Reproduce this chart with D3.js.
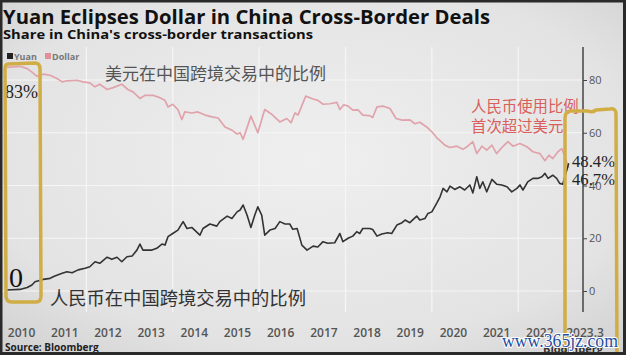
<!DOCTYPE html>
<html><head><meta charset="utf-8">
<script src="https://cdn.jsdelivr.net/npm/d3@7"></script>
<style>html,body{margin:0;padding:0;background:#222;}svg{display:block;}</style>
</head><body>
<script>
// ---- data ----
const dollarDates = [2010.16,2010.46,2010.63,2010.74,2010.86,2011.00,2011.16,2011.32,2011.44,2011.55,2011.78,2011.92,2012.08,2012.20,2012.31,2012.48,2012.62,2012.82,2012.96,2013.08,2013.24,2013.36,2013.54,2013.70,2013.82,2013.89,2014.00,2014.12,2014.21,2014.28,2014.44,2014.58,2014.75,2014.91,2015.05,2015.21,2015.37,2015.49,2015.56,2015.63,2015.81,2015.97,2016.13,2016.30,2016.48,2016.64,2016.74,2016.83,2016.90,2017.08,2017.25,2017.36,2017.48,2017.64,2017.80,2017.87,2017.96,2018.06,2018.17,2018.29,2018.40,2018.56,2018.63,2018.73,2018.87,2019.03,2019.17,2019.31,2019.49,2019.61,2019.72,2019.88,2020.02,2020.12,2020.19,2020.30,2020.42,2020.58,2020.72,2020.83,2020.95,2021.04,2021.16,2021.27,2021.39,2021.50,2021.62,2021.76,2021.88,2022.04,2022.20,2022.34,2022.50,2022.62,2022.71,2022.80,2022.92,2023.01,2023.17];
const dollarValues = [84.8,85.2,84.3,83,81.4,82.2,81.8,80.6,79.3,79.7,79.9,79.3,78.9,77.4,78.4,76.4,77.1,78.4,76.4,75.5,73,74.2,74.2,73.3,72.3,69.8,70.8,68.8,65,67.9,67.5,67.9,66.7,66,65.6,62.2,61,59.5,60,57.5,66.3,60,68.8,66.9,64.1,65.4,63.8,67.5,66.7,73.9,72.8,72.3,70.8,71,71.5,68.8,70.6,70.1,68.6,68.7,66.7,66.5,65.8,69.8,70.1,69.2,65.4,64.8,64.9,63.4,64,62.2,60,58,57,55.3,54.4,54.9,53.7,54.9,56.6,52.1,54.9,53.4,55.3,52.1,54.4,56.6,54.9,55.9,54.7,52.8,52.1,49.4,51.5,50.2,52.8,54,46.7];
const yuanDates = [2010.16,2010.46,2010.63,2010.74,2010.81,2011.00,2011.16,2011.27,2011.44,2011.55,2011.67,2011.81,2011.97,2012.08,2012.20,2012.31,2012.48,2012.59,2012.71,2012.82,2012.94,2013.06,2013.17,2013.24,2013.31,2013.52,2013.63,2013.75,2013.82,2013.89,2014.00,2014.12,2014.24,2014.33,2014.44,2014.63,2014.70,2014.86,2015.02,2015.09,2015.26,2015.37,2015.49,2015.56,2015.63,2015.72,2015.81,2015.90,2015.97,2016.06,2016.13,2016.25,2016.37,2016.48,2016.60,2016.71,2016.78,2016.88,2016.99,2017.11,2017.25,2017.36,2017.48,2017.59,2017.75,2017.87,2017.94,2018.06,2018.17,2018.26,2018.33,2018.40,2018.56,2018.63,2018.73,2018.84,2018.98,2019.07,2019.19,2019.31,2019.38,2019.49,2019.65,2019.72,2019.84,2019.91,2020.00,2020.12,2020.19,2020.26,2020.35,2020.42,2020.53,2020.65,2020.76,2020.88,2020.95,2021.04,2021.11,2021.18,2021.27,2021.39,2021.50,2021.62,2021.74,2021.85,2021.97,2022.04,2022.11,2022.22,2022.34,2022.45,2022.55,2022.62,2022.69,2022.80,2022.89,2022.96,2023.03,2023.17];
const yuanValues = [0.4,0.6,1.3,2.3,3.5,4.4,4.8,5.7,6.7,7.3,6.9,8,8.6,9.2,11.1,10.5,12.8,12,12.8,11.1,13,13.3,15.5,17.8,15.5,15.5,16.2,17.8,17.4,20.6,21.8,23.1,26.3,23.7,24.1,21.2,23.7,25.4,24.6,26.3,28.4,27.5,30,30.7,32.6,28.8,24.1,28.8,31.9,28.8,21.2,23.1,23.7,26.3,25.4,25.4,23.4,23.7,17.4,15.5,17,16.7,18.7,18.1,18.3,21.8,18.7,20,20.8,22.5,21.8,23.7,23.7,23.3,20.8,21.6,22.1,21.8,25,25.9,26.9,25.9,28.4,26.9,27.5,29.4,30,33.5,35.7,38.9,37.6,39.8,38.5,39.5,38.3,40.2,37.2,43.3,38.9,41.4,37.6,42.3,40.5,40.2,39.5,37.6,38.9,40.2,38.3,41.4,42.7,42.7,43.3,44.6,42.7,43.9,42.7,40.8,40.5,48.4];
const yearLabels = ["2010","2011","2012","2013","2014","2015","2016","2017","2018","2019","2020","2021","2022"];
const lastLabel = "2023.3";
const yTicks = [0,20,40,60,80];
const gridYears = [2012,2014,2016,2018,2020,2022];
const seriesNames = ["Yuan","Dollar"];

const W = 626, H = 355;
const svg = d3.select("body").append("svg").attr("width", W).attr("height", H);

// background
const defs = svg.append("defs");
const rg = defs.append("radialGradient").attr("id","bg").attr("cx","50%").attr("cy","45%").attr("r","75%");
rg.append("stop").attr("offset","0%").attr("stop-color","#efefef");
rg.append("stop").attr("offset","70%").attr("stop-color","#e3e3e3");
rg.append("stop").attr("offset","100%").attr("stop-color","#cfcfcf");
svg.append("rect").attr("width",W).attr("height",H).attr("fill","url(#bg)");

const x = d3.scaleLinear().domain([2010, 2023.5]).range([0, 583]);
const y = d3.scaleLinear().domain([0, 80]).range([291, 80]);

// gridlines
svg.append("g").selectAll("line").data(gridYears).join("line")
  .attr("x1", d => x(d)).attr("x2", d => x(d)).attr("y1", 47).attr("y2", 312)
  .attr("stroke", "#f6f6f6").attr("stroke-width", 1.2);
svg.append("g").selectAll("line").data(yTicks).join("line")
  .attr("x1", 0).attr("x2", x(2023.5)).attr("y1", d => y(d)).attr("y2", d => y(d))
  .attr("stroke", "#f6f6f6").attr("stroke-width", 1.2);

// lines
const dollar = dollarDates.map((d,i) => [d, dollarValues[i]]);
const yuan = yuanDates.map((d,i) => [d, yuanValues[i]]);
const line = d3.line().x(d => x(d[0])).y(d => y(d[1]));
svg.append("path").datum(dollar).attr("d", line).attr("fill","none")
  .attr("stroke","#e0a3ac").attr("stroke-width",1.7).attr("stroke-linejoin","round");
svg.append("path").datum(yuan).attr("d", line).attr("fill","none")
  .attr("stroke","#333").attr("stroke-width",1.6).attr("stroke-linejoin","round");

// right axis
const axis = d3.axisRight(y).tickValues(yTicks).tickSize(4).tickPadding(2);
const ag = svg.append("g").attr("transform", `translate(${x(2023.5)},0)`).call(axis);
ag.select(".domain").remove();
ag.selectAll(".tick line").attr("stroke","#444");
ag.selectAll(".tick text").attr("fill","#555").attr("font-family","Open Sans").attr("font-size",11);
svg.append("line").attr("x1", x(2023.5)).attr("x2", x(2023.5)).attr("y1", 47).attr("y2", 312)
  .attr("stroke","#444").attr("stroke-width",1.5);

// x labels
svg.append("g").selectAll("text").data(yearLabels).join("text")
  .attr("x", d => x(+d + 0.5)).attr("y", 337).attr("text-anchor","middle")
  .attr("font-family","Open Sans").attr("font-weight",600).attr("font-size",12).attr("fill","#555")
  .text(d => d);
svg.append("text").attr("x", x(2023.5) + 2).attr("y", 337).attr("text-anchor","middle")
  .attr("font-family","Open Sans").attr("font-weight",600).attr("font-size",12).attr("fill","#555")
  .text(lastLabel);

// title
svg.append("text").attr("x",3).attr("y",24).attr("font-family","Open Sans").attr("font-weight",700)
  .attr("font-size",20).attr("fill","#111").attr("textLength",487).attr("lengthAdjust","spacingAndGlyphs")
  .text("Yuan Eclipses Dollar in China Cross-Border Deals");
svg.append("text").attr("x",3).attr("y",38.5).attr("font-family","Open Sans").attr("font-weight",700)
  .attr("font-size",13).attr("fill","#111").attr("textLength",310).attr("lengthAdjust","spacingAndGlyphs")
  .text("Share in China's cross-border transactions");

// legend
const lg = svg.append("g").attr("font-family","Open Sans").attr("font-weight",700).attr("font-size",9).attr("fill","#777");
lg.append("rect").attr("x",7).attr("y",53).attr("width",6).attr("height",6).attr("fill","#222");
lg.append("text").attr("x",14).attr("y",59.5).text(seriesNames[0]);
lg.append("rect").attr("x",45).attr("y",53).attr("width",6).attr("height",6).attr("fill","#e28f9c");
lg.append("text").attr("x",52).attr("y",59.5).text(seriesNames[1]);

// source
svg.append("text").attr("x",5).attr("y",351).attr("font-family","Open Sans").attr("font-weight",700)
  .attr("font-size",10).attr("fill","#222").text("Source: Bloomberg");

// annotations (Chinese)
svg.append("text").attr("x",105).attr("y",72.5).attr("dominant-baseline","central")
  .attr("font-family","Noto Sans CJK SC").attr("font-size",17).attr("fill","#555")
  .text("美元在中国跨境交易中的比例");
svg.append("text").attr("x",50).attr("y",297).attr("dominant-baseline","central")
  .attr("font-family","Noto Sans CJK SC").attr("font-size",18.3).attr("fill","#333")
  .text("人民币在中国跨境交易中的比例");
svg.append("text").attr("x",471).attr("y",105).attr("dominant-baseline","central")
  .attr("font-family","Noto Sans CJK SC").attr("font-size",15.4).attr("fill","#d9605c")
  .text("人民币使用比例");
svg.append("text").attr("x",471).attr("y",125).attr("dominant-baseline","central")
  .attr("font-family","Noto Sans CJK SC").attr("font-size",15.4).attr("fill","#d9605c")
  .text("首次超过美元");

// numbers
const serif = "Liberation Serif";
svg.append("text").attr("x",5).attr("y",98).attr("font-family",serif).attr("font-size",18).attr("fill","#222").text("83%");
svg.append("text").attr("x",9).attr("y",287).attr("font-family",serif).attr("font-size",28).attr("fill","#111").text("0");
svg.append("text").attr("x",572).attr("y",167).attr("font-family",serif).attr("font-size",16).attr("fill","#222")
  .attr("textLength",43).attr("lengthAdjust","spacingAndGlyphs").text("48.4%");
svg.append("text").attr("x",572).attr("y",185).attr("font-family",serif).attr("font-size",16).attr("fill","#222")
  .attr("textLength",43).attr("lengthAdjust","spacingAndGlyphs").text("46.7%");

// yellow hand-drawn boxes
const gold = "#d1ad45";
svg.append("path")
  .attr("d","M8,64 Q5,64 5,69 L6,296 Q6,302 12,302 L36,302 Q41,302 41,296 L40,69 Q40,63 35,63 Z")
  .attr("fill","none").attr("stroke",gold).attr("stroke-width",3.5).attr("stroke-linejoin","round");
svg.append("path")
  .attr("d","M565,356 L565,118 Q565,111 571,111 L588,111 Q592,113 596,110 L610,109 Q616,108 616,114 L617,356")
  .attr("fill","none").attr("stroke",gold).attr("stroke-width",3.5).attr("stroke-linejoin","round");

// bloomberg logo text + watermark
svg.append("text").attr("x",543).attr("y",353).attr("font-family","Open Sans").attr("font-weight",700)
  .attr("font-size",11).attr("fill","#333").text("Bloomberg");
svg.append("text").attr("x",502).attr("y",347).attr("font-family",serif).attr("font-size",18)
  .attr("fill","#1f4f9f").attr("stroke","#ffffff").attr("stroke-width",2.2).attr("paint-order","stroke")
  .attr("textLength",116).attr("lengthAdjust","spacingAndGlyphs").text("www.365jz.com");

// frame
svg.append("rect").attr("x",1).attr("y",1).attr("width",W-2.5).attr("height",H-2.5)
  .attr("fill","none").attr("stroke","#2a2a2a").attr("stroke-width",3);
</script>
</body></html>
